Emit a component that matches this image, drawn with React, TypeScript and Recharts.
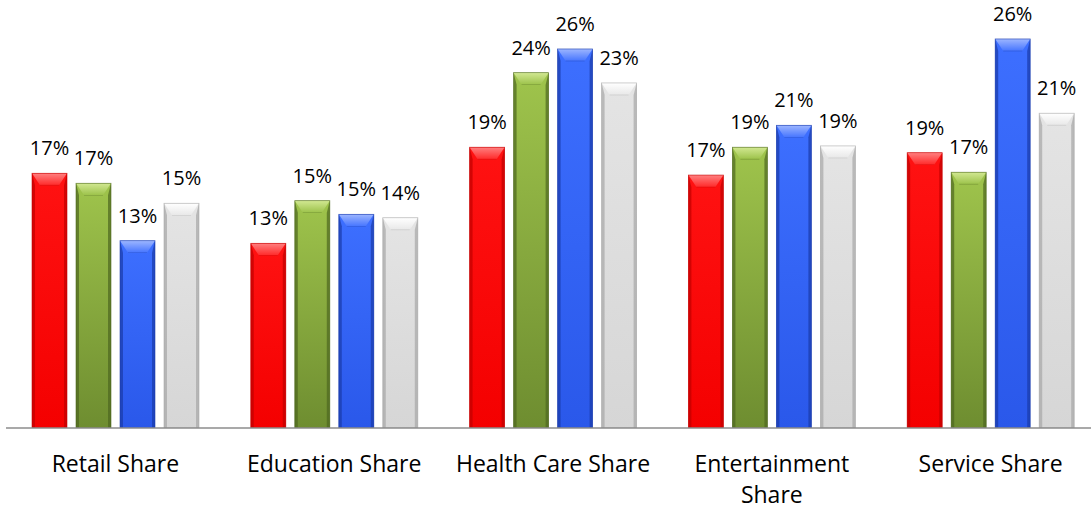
import React from 'react'
import { BarChart, Bar, XAxis, YAxis, LabelList } from 'recharts'

// category names and the four series (percent values)
const categories = ['Retail Share', 'Education Share', 'Health Care Share', 'Entertainment Share', 'Service Share']
const redSeries = [17.31, 12.55, 19.08, 17.19, 18.71]
const greenSeries = [16.63, 15.45, 24.15, 19.08, 17.38]
const blueSeries = [12.73, 14.52, 25.76, 20.57, 26.44]
const graySeries = [15.27, 14.29, 23.45, 19.17, 21.39]

const data = categories.map((category, i) => ({
  category,
  red: redSeries[i],
  green: greenSeries[i],
  blue: blueSeries[i],
  gray: graySeries[i],
}))

const FONT = '"Open Sans", sans-serif'

type Palette = { top: string; bottom: string; edge: string; cap: string; capEdge: string }

const palettes: Record<string, Palette> = {
  red: { top: '#ff1212', bottom: '#f40000', edge: '#c00000', cap: '#ff8080', capEdge: '#ff2a2a' },
  green: { top: '#9fc44c', bottom: '#6e8d30', edge: '#4d6620', cap: '#d2e892', capEdge: '#9cc24a' },
  blue: { top: '#3d6fff', bottom: '#2a58ea', edge: '#1a3aa8', cap: '#9db6ff', capEdge: '#4675ff' },
  gray: { top: '#e4e4e4', bottom: '#d6d6d6', edge: '#a6a6a6', cap: '#ffffff', capEdge: '#e8e8e8' },
}

const makeBevel = (key: string) => (props: any) => {
  const { x, y, width, height, index } = props
  if (!height || height <= 0) return null
  const p = palettes[key]
  const id = `g-${key}-${index}`
  const side = 3
  const capH = Math.min(12, height / 2)
  const inset = 8
  return (
    <g>
      <defs>
        <linearGradient id={`${id}-v`} x1="0" y1="0" x2="0" y2="1">
          <stop offset="0%" stopColor={p.top} />
          <stop offset="100%" stopColor={p.bottom} />
        </linearGradient>
        <linearGradient id={`${id}-c`} x1="0" y1="0" x2="0" y2="1">
          <stop offset="0%" stopColor={p.cap} />
          <stop offset="100%" stopColor={p.capEdge} />
        </linearGradient>
      </defs>
      <rect x={x} y={y} width={width} height={height} fill={`url(#${id}-v)`} />
      <polygon points={`${x},${y} ${x + side},${y + capH} ${x + side},${y + height} ${x},${y + height}`} fill={p.edge} opacity={0.7} />
      <polygon points={`${x + width},${y} ${x + width - side},${y + capH} ${x + width - side},${y + height} ${x + width},${y + height}`} fill={p.edge} opacity={0.7} />
      <polygon points={`${x},${y} ${x + width},${y} ${x + width - inset},${y + capH} ${x + inset},${y + capH}`} fill={`url(#${id}-c)`} />
      <line x1={x + inset} y1={y + capH} x2={x + width - inset} y2={y + capH} stroke={p.edge} strokeWidth={0.6} opacity={0.5} />
      <rect x={x} y={y} width={width} height={height} fill="none" stroke={p.edge} strokeWidth={0.8} opacity={0.7} />
    </g>
  )
}

const CategoryTick = (props: any) => {
  const { x, y, payload } = props
  const text: string = payload.value
  let lines = [text]
  if (text.length > 17) {
    const cut = text.lastIndexOf(' ')
    lines = [text.slice(0, cut), text.slice(cut + 1)]
  }
  return (
    <g>
      {lines.map((line, i) => (
        <text key={i} x={x} y={y + 36 + i * 31} textAnchor="middle" fill="#000" fontSize={23} fontFamily={FONT}>
          {line}
        </text>
      ))}
    </g>
  )
}

const seriesKeys = ['red', 'green', 'blue', 'gray']

export default function App() {
  return (
    <div style={{ position: 'absolute', left: 0, top: 0, width: 1091, height: 510, overflow: 'hidden', background: '#fff' }}>
      <BarChart
        width={1100}
        height={510}
        data={data}
        margin={{ top: 16, right: 0, bottom: 0, left: 6 }}
        barCategoryGap={26}
        barGap={9}
      >
        <XAxis
          dataKey="category"
          interval={0}
          height={82}
          tickLine={false}
          axisLine={{ stroke: '#8c8c8c', strokeWidth: 1.5 }}
          tick={<CategoryTick />}
        />
        <YAxis hide domain={[0, 28]} allowDataOverflow />
        {seriesKeys.map(key => (
          <Bar key={key} dataKey={key} shape={makeBevel(key)} isAnimationActive={false}>
            <LabelList
              dataKey={key}
              position="top"
              offset={18}
              formatter={(v: any) => `${Math.round(Number(v))}%`}
              fill="#000"
              fontSize={20}
              fontFamily={FONT}
            />
          </Bar>
        ))}
      </BarChart>
    </div>
  )
}
